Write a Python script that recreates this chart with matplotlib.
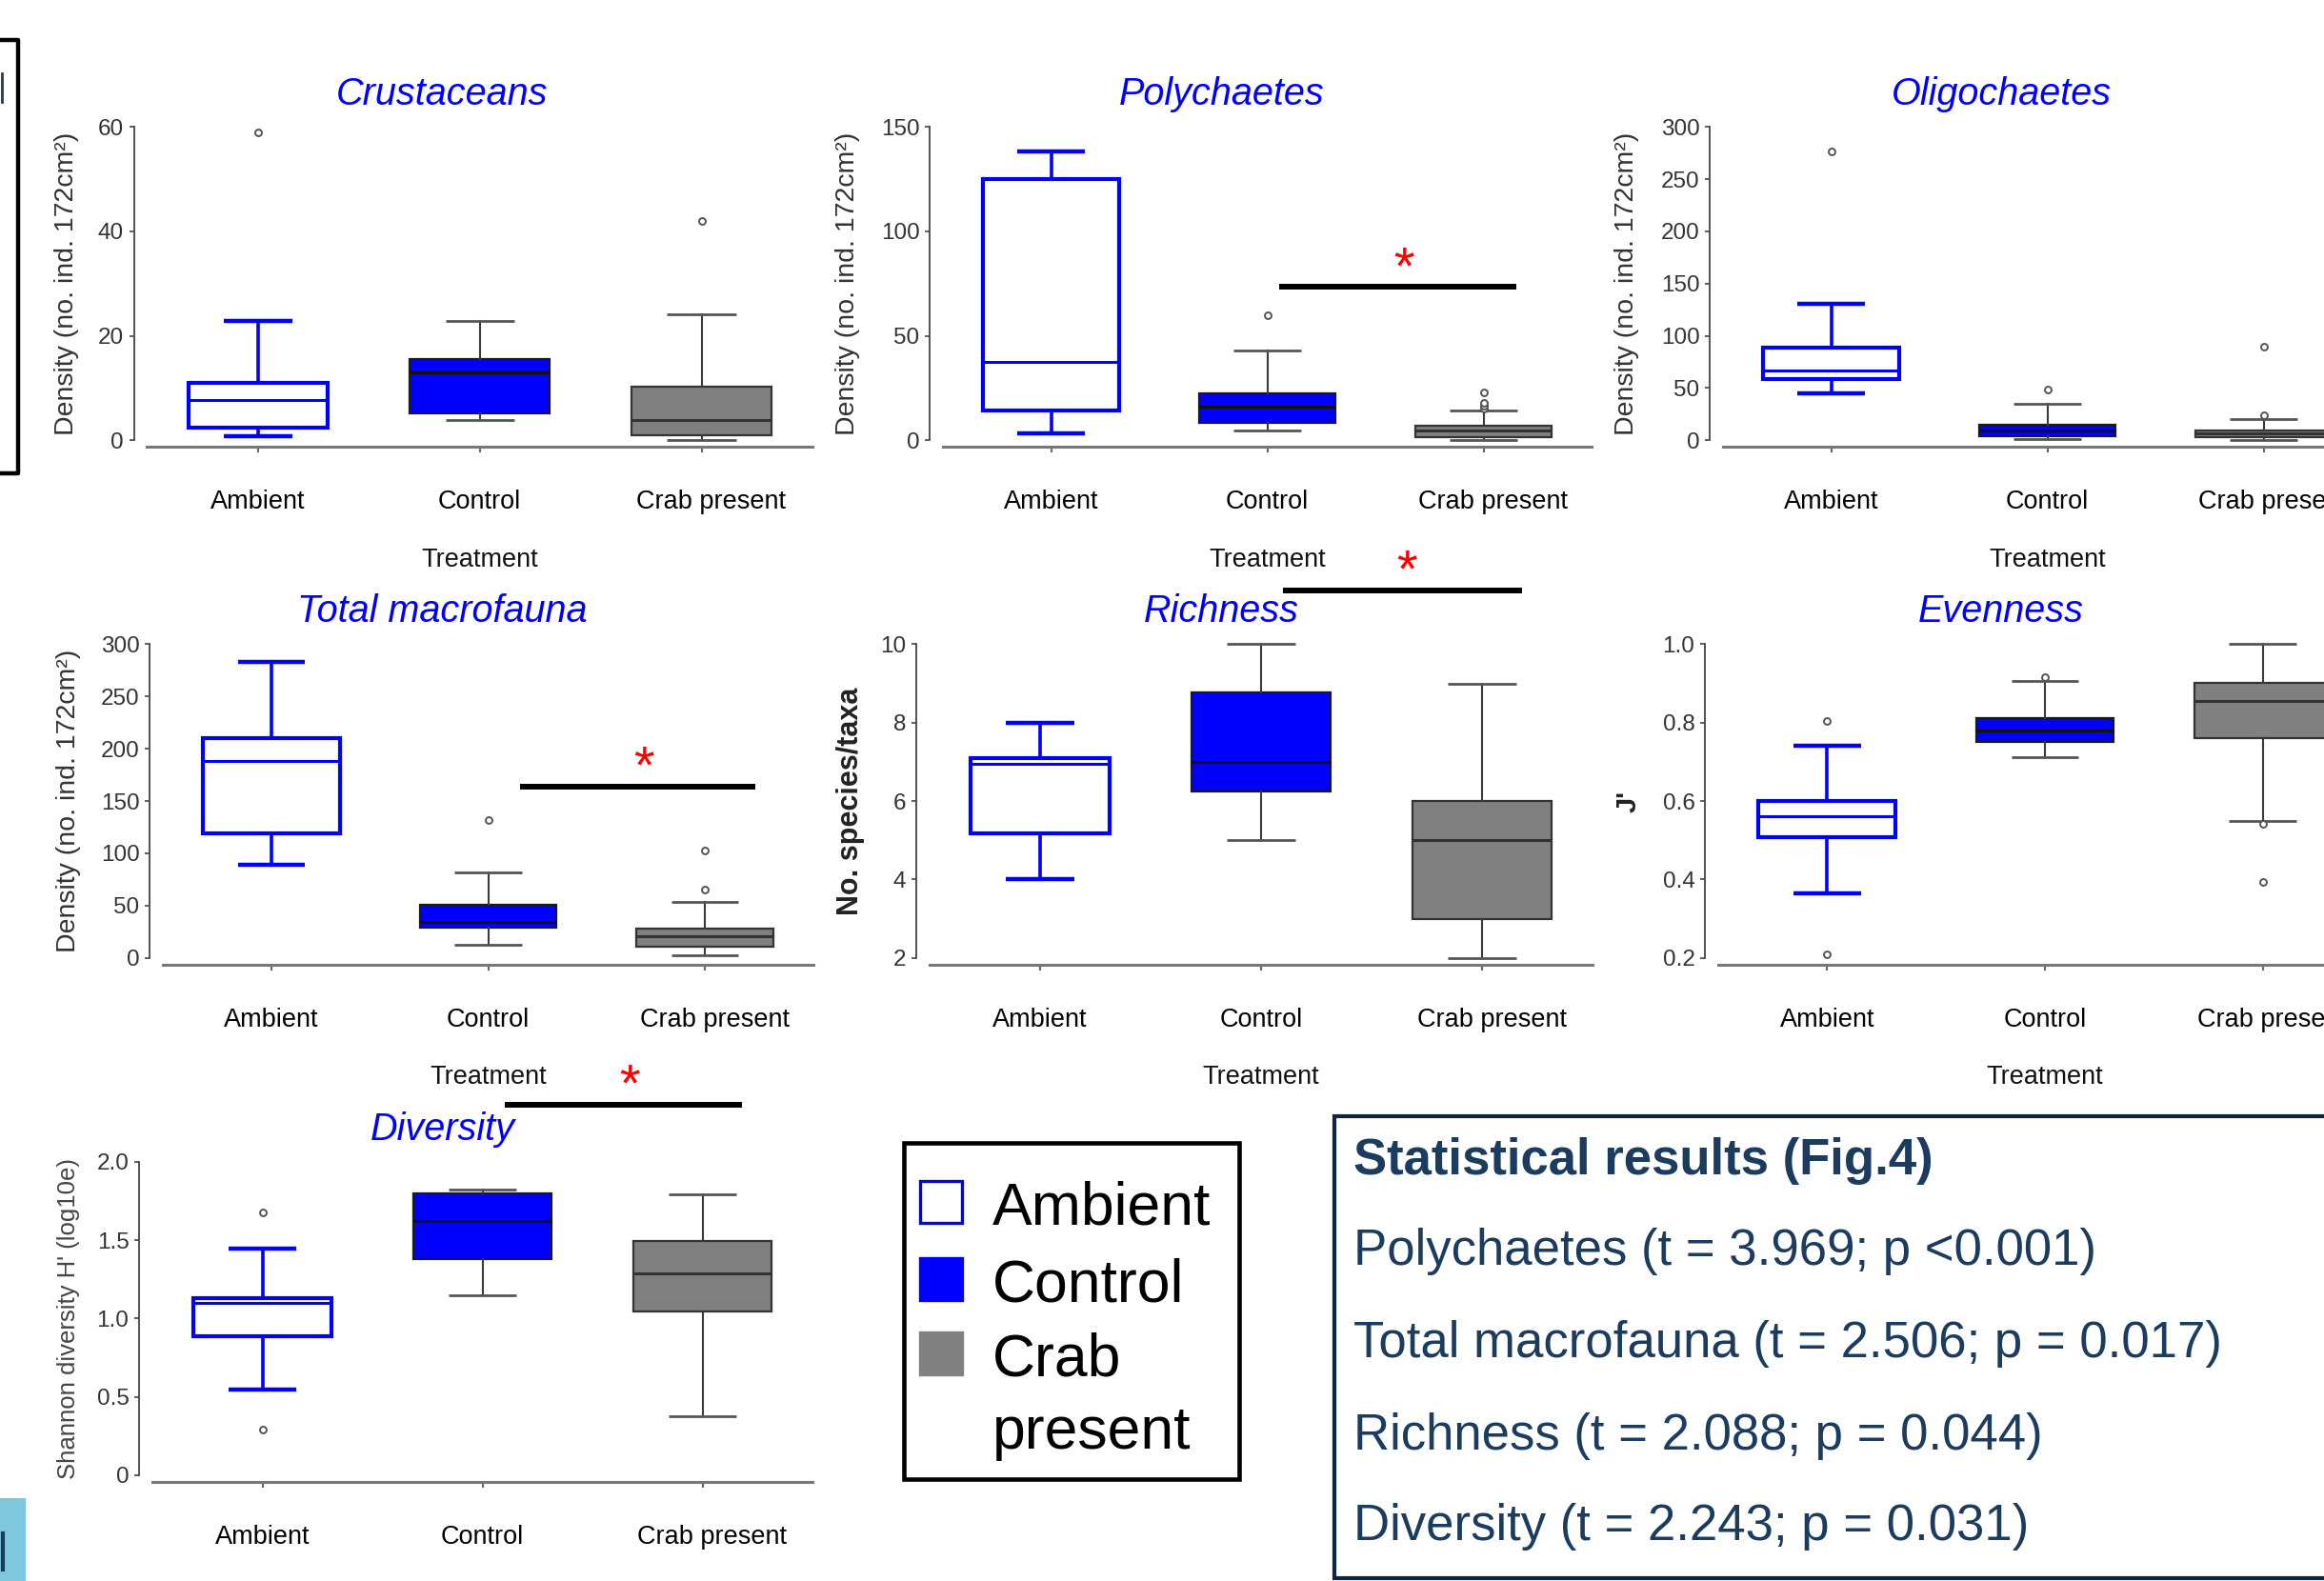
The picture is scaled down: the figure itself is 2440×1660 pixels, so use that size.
import matplotlib
matplotlib.use('Agg')
import matplotlib.pyplot as plt
import matplotlib.transforms as mtransforms
from matplotlib.patches import Rectangle
from matplotlib.lines import Line2D

plt.rcParams['font.family'] = ['Liberation Sans', 'DejaVu Sans']

# ---------------- data ----------------
treatments = ['Ambient', 'Control', 'Crab present']

# each group: [whisker low, Q1, median, Q3, whisker high]
crustaceans = [[0.8, 2.5, 7.7, 11.0, 22.9], [3.9, 5.2, 13.0, 15.6, 22.9], [0.0, 0.9, 3.9, 10.2, 24.1]]
crustaceans_out = [[59.0], [], [41.9]]

polychaetes = [[3.5, 14.1, 37.7, 124.9, 138.3], [4.9, 8.4, 15.9, 22.3, 42.9], [0.0, 1.7, 4.5, 7.0, 14.1]]
polychaetes_out = [[], [59.8], [15.3, 16.7, 18.0, 22.8]]

oligochaetes = [[45.3, 58.6, 67.0, 88.5, 130.8], [1.0, 3.8, 9.0, 15.0, 34.9], [0.0, 2.8, 7.0, 9.8, 20.2]]
oligochaetes_out = [[276.6], [48.8], [23.7, 90.0]]

total_macrofauna = [[89.0, 118.7, 188.7, 210.5, 283.0], [12.7, 29.3, 34.8, 50.4, 81.9], [2.3, 10.4, 20.8, 28.3, 53.4]]
total_macrofauna_out = [[], [131.8], [65.7, 102.5]]

richness = [[4.0, 5.18, 6.95, 7.09, 8.0], [5.0, 6.24, 7.0, 8.76, 10.0], [2.0, 3.0, 5.0, 6.0, 9.0]]
richness_out = [[], [], []]

evenness = [[0.364, 0.508, 0.562, 0.599, 0.742], [0.711, 0.751, 0.779, 0.812, 0.907], [0.549, 0.761, 0.854, 0.902, 1.0]]
evenness_out = [[0.805, 0.209], [0.915], [0.543, 0.394]]

diversity = [[0.545, 0.886, 1.10, 1.127, 1.445], [1.145, 1.378, 1.62, 1.801, 1.822], [0.377, 1.047, 1.288, 1.493, 1.79]]
diversity_out = [[1.675, 0.289], [], []]

crus_ticks = [0, 20, 40, 60]
poly_ticks = [0, 50, 100, 150]
dens300_ticks = [0, 50, 100, 150, 200, 250, 300]
rich_ticks = [2, 4, 6, 8, 10]
even_ticks = [0.2, 0.4, 0.6, 0.8, 1.0]
even_ticklabels = ['0.2', '0.4', '0.6', '0.8', '1.0']
div_ticks = [0, 0.5, 1.0, 1.5, 2.0]
div_ticklabels = ['0', '0.5', '1.0', '1.5', '2.0']

# significance bars: (x start, x end, bar y, star x, star y)
sig_polychaetes = [1.057, 2.15, 73.3, 1.63, 86.5]
sig_total = [1.145, 2.23, 163.3, 1.716, 190.3]
sig_richness = [1.10, 2.18, 11.36, 1.66, 12.08]
sig_diversity = [1.10, 2.18, 2.367, 1.67, 2.546]

stat_title = 'Statistical results (Fig.4)'
stat_names = ['Polychaetes', 'Total macrofauna', 'Richness', 'Diversity']
stat_t = [3.969, 2.506, 2.088, 2.243]
stat_p = ['<0.001', '= 0.017', '= 0.044', '= 0.031']

# ---------------- figure ----------------
W, H, DPI = 2440, 1660, 100
PT = 72.0 / DPI  # pixels -> points
fig = plt.figure(figsize=(W / DPI, H / DPI), dpi=DPI)
fig.patch.set_facecolor('white')

styles = [
    dict(face='white', edge='#0000FF', lw=3.0, med='#0000FF', medlw=2.2, whisk='#0000FF', wlw=2.6, cap='#0000FF', caplw=3.2),
    dict(face='#0000FF', edge='#1a1a1a', lw=1.6, med='#111111', medlw=2.2, whisk='#3a3a3a', wlw=1.5, cap='#555555', caplw=2.0),
    dict(face='#808080', edge='#333333', lw=1.6, med='#333333', medlw=2.2, whisk='#3a3a3a', wlw=1.5, cap='#555555', caplw=2.0),
]


def fig_rect(x0, y0, x1, y1):
    return [x0 / W, 1 - y1 / H, (x1 - x0) / W, (y1 - y0) / H]


def to_fig(x, y):
    return x / W, 1 - y / H


def panel(rect, data, outs, ylim, yticks, yticklabels, title, ylabel, ylabel_px,
          ylabel_kw, xlabel=True, sig=None, title_x=0.80):
    x0, y0, x1, y1 = rect
    ax = fig.add_axes(fig_rect(x0, y0, x1, y1))
    ax.patch.set_visible(False)
    for i, (vals, fl, st) in enumerate(zip(data, outs, styles)):
        lo, q1, md, q3, hi = vals
        stats = [dict(whislo=lo, q1=q1, med=md, q3=q3, whishi=hi, fliers=fl)]
        arts = ax.bxp(stats, positions=[i], widths=0.63, capwidths=0.31, patch_artist=True,
                      showfliers=True, manage_ticks=False,
                      boxprops=dict(facecolor=st['face'], edgecolor=st['edge'], linewidth=st['lw']),
                      medianprops=dict(color=st['med'], linewidth=st['medlw'], solid_capstyle='butt'),
                      whiskerprops=dict(color=st['whisk'], linewidth=st['wlw']),
                      capprops=dict(color=st['cap'], linewidth=st['caplw'], solid_capstyle='butt'),
                      flierprops=dict(marker='o', markersize=5, markerfacecolor='white',
                                      markeredgecolor='#555555', markeredgewidth=1.4))
        for group in arts.values():
            for a in group:
                a.set_clip_on(False)
    ax.set_xlim(-0.5, 2.5)
    ax.set_ylim(*ylim)
    ax.set_yticks(yticks)
    ax.set_yticklabels(yticklabels)
    ax.set_xticks([0, 1, 2])
    ax.set_xticklabels(treatments)
    for s in ['top', 'right']:
        ax.spines[s].set_visible(False)
    ax.spines['left'].set_position(('outward', 14 * PT))
    ax.spines['bottom'].set_position(('outward', 7 * PT))
    ax.spines['left'].set_color('#444444')
    ax.spines['left'].set_linewidth(1.3)
    ax.spines['bottom'].set_color('#777777')
    ax.spines['bottom'].set_linewidth(2.2)
    ax.tick_params(axis='x', length=6 * PT, width=1.5, color='#666666', pad=28,
                   labelsize=19.5, labelcolor='black')
    ax.tick_params(axis='y', length=5 * PT, width=1.2, color='#444444', labelsize=17.5,
                   labelcolor='#333333', pad=4)
    # the "Crab present" label sits slightly right of its tick in the original
    shift = mtransforms.ScaledTranslation(10 / DPI, 0, fig.dpi_scale_trans)
    lbl = ax.get_xticklabels()[2]
    lbl.set_transform(lbl.get_transform() + shift)
    if xlabel:
        ax.set_xlabel('Treatment', fontsize=19.5, labelpad=25, color='#111111')
    ax.set_ylabel(ylabel, va='center', **ylabel_kw)
    ax.yaxis.set_label_coords((ylabel_px - x0) / (x1 - x0), 0.5)
    ax.annotate(title, xy=(title_x, 1.0), xycoords=('data', 'axes fraction'),
                xytext=(0, 23 * PT), textcoords='offset points', ha='center', va='baseline',
                fontsize=28.5, style='italic', color='#0000FF')
    if sig is not None:
        xa, xb, yb, xs, ys = sig
        ax.plot([xa, xb], [yb, yb], color='black', lw=4.3, clip_on=False, solid_capstyle='butt')
        ax.annotate('*', xy=(xs, ys), xycoords='data', xytext=(0, -18), textcoords='offset points',
                    ha='center', va='baseline', fontsize=40, color='#FF0000', annotation_clip=False)
    return ax


dens_label = 'Density (no. ind. 172cm²)'
dens_kw = dict(fontsize=20.5, color='#333333')

panel((154.5, 133.2, 853, 462.3), crustaceans, crustaceans_out, (0, 60), crus_ticks,
      [str(t) for t in crus_ticks], 'Crustaceans', dens_label, 70, dens_kw, title_x=0.83)
panel((990, 133.2, 1671, 462.3), polychaetes, polychaetes_out, (0, 150), poly_ticks,
      [str(t) for t in poly_ticks], 'Polychaetes', dens_label, 890, dens_kw, sig=sig_polychaetes,
      title_x=0.79)
panel((1809, 133.2, 2490, 462.3), oligochaetes, oligochaetes_out, (0, 300), dens300_ticks,
      [str(t) for t in dens300_ticks], 'Oligochaetes', dens_label, 1708, dens_kw, title_x=0.79)

panel((171, 676.4, 854, 1005.7), total_macrofauna, total_macrofauna_out, (0, 300), dens300_ticks,
      [str(t) for t in dens300_ticks], 'Total macrofauna', dens_label, 72, dens_kw, sig=sig_total,
      title_x=0.79)
panel((976, 676.4, 1672, 1005.7), richness, richness_out, (2, 10), rich_ticks,
      [str(t) for t in rich_ticks], 'Richness', 'No. species/taxa', 893,
      dict(fontsize=22, fontweight='bold', color='#222222'), sig=sig_richness, title_x=0.82)
panel((1804, 676.4, 2490, 1005.7), evenness, evenness_out, (0.2, 1.0), even_ticks,
      even_ticklabels, 'Evenness', "J'", 1710,
      dict(fontsize=21, fontweight='bold', color='#222222'))

panel((160, 1219.9, 853, 1548.7), diversity, diversity_out, (0, 2.0), div_ticks,
      div_ticklabels, 'Diversity', "Shannon diversity H' (log10e)", 72,
      dict(fontsize=18.5, color='#444444'), xlabel=False, sig=sig_diversity, title_x=0.82)

# ---------------- legend box ----------------
fig.add_artist(Rectangle(to_fig(949, 1553), (1301 - 949) / W, (1553 - 1200) / H,
                         transform=fig.transFigure, facecolor='white', edgecolor='black', lw=3.3))
leg_labels = ['Ambient', 'Control', 'Crab\npresent']
leg_baselines = [1285, 1366, 1444]
leg_linestep = 77
for lab, st, base in zip(leg_labels, styles, leg_baselines):
    cy = base - 23
    fig.add_artist(Rectangle(to_fig(966, cy + 22), 44 / W, 44 / H, transform=fig.transFigure,
                             facecolor=st['face'],
                             edgecolor=st['edge'] if st['face'] == 'white' else st['face'],
                             lw=2.4))
    for k, line in enumerate(lab.split('\n')):
        fx, fy = to_fig(1042, base + k * leg_linestep)
        fig.text(fx, fy, line, fontsize=45, ha='left', va='baseline', color='black')

# ---------------- statistics box ----------------
navy = '#1B3B5F'
fig.add_artist(Rectangle(to_fig(1401, 1656.7), (2470 - 1401) / W, (1656.7 - 1171.7) / H,
                         transform=fig.transFigure, facecolor='white', edgecolor='#0F243E', lw=3.0,
                         clip_on=False))
tx, ty = to_fig(1421, 1233)
fig.text(tx, ty, stat_title, fontsize=38, fontweight='bold', color=navy, ha='left', va='baseline')
for name, t, p, base in zip(stat_names, stat_t, stat_p, [1328, 1425, 1522, 1617]):
    tx, ty = to_fig(1421, base)
    fig.text(tx, ty, f'{name} (t = {t:.3f}; p {p})', fontsize=38, color=navy,
             ha='left', va='baseline')

# ---------------- slide remnants at the left edge ----------------
xs = [0, 19, 19, 0]
ys = [42, 42, 497, 497]
fig.add_artist(Line2D([x / W for x in xs], [1 - y / H for y in ys], transform=fig.transFigure,
                      color='black', lw=3.2))
fig.add_artist(Line2D([1.5 / W, 1.5 / W], [1 - 77 / H, 1 - 107 / H], transform=fig.transFigure,
                      color=navy, lw=2))
fig.add_artist(Rectangle(to_fig(0, 1660), 27 / W, (1660 - 1573) / H, transform=fig.transFigure,
                         facecolor='#7EC8DD', edgecolor='none'))
fig.add_artist(Line2D([3 / W, 3 / W], [1 - 1610 / H, 1 - 1648 / H], transform=fig.transFigure,
                      color=navy, lw=3))

fig.savefig('out.png', dpi=DPI)
